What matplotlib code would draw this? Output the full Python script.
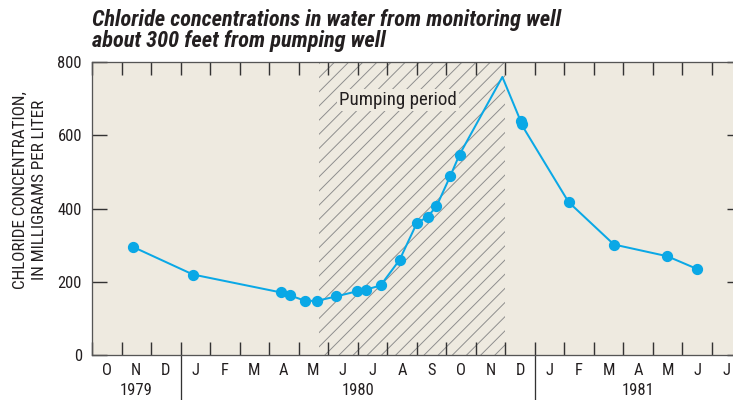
import calendar
import matplotlib
matplotlib.use('Agg')
import matplotlib.pyplot as plt
import matplotlib.transforms as mtransforms

# sample dates and chloride values
dates = ['1979-11-13', '1980-01-14', '1980-04-13', '1980-04-22', '1980-05-08',
         '1980-05-20', '1980-06-09', '1980-06-30', '1980-07-10', '1980-07-25',
         '1980-08-14', '1980-09-01', '1980-09-12', '1980-09-21', '1980-10-05',
         '1980-10-15', '1980-11-28', '1980-12-17', '1980-12-18', '1981-02-05',
         '1981-03-22', '1981-05-16', '1981-06-16']
chloride = [295, 220, 171, 163, 148, 148, 160, 174, 179, 190, 260, 360, 378,
            406, 488, 548, 760, 640, 630, 418, 302, 270, 235]
# the peak at end of Nov is drawn without a dot
has_marker = [True] * 16 + [False] + [True] * 6

pumping = ('1980-05-22', '1980-12-01')
month_labels = ['O', 'N', 'D', 'J', 'F', 'M', 'A', 'M', 'J', 'J', 'A', 'S',
                'O', 'N', 'D', 'J', 'F', 'M', 'A', 'M', 'J', 'J']
years = ['1979', '1980', '1981']
year_start = [0, 3, 15]   # month index where each year begins
year_end = [3, 15, 22]


def to_month(s):
    # fractional months since 1 Oct 1979
    y, m, d = [int(p) for p in s.split('-')]
    ndays = calendar.monthrange(y, m)[1]
    return (y - 1979) * 12 + (m - 10) + (d - 1) / ndays


x = [to_month(d) for d in dates]
marks = [i for i, f in enumerate(has_marker) if f]

DPI = 85
narrow = ['Roboto Condensed', 'Liberation Sans Narrow', 'Roboto', 'DejaVu Sans']
txt = dict(family=narrow, stretch='condensed', color='#231f20')
plt.rcParams['hatch.linewidth'] = 0.8
plt.rcParams['hatch.color'] = '#8c8c8c'

fig = plt.figure(figsize=(733 / DPI, 400 / DPI), dpi=DPI)
ax = fig.add_axes([92 / 733, 45 / 400, 649.5 / 733, 292.7 / 400])
ax.set_facecolor('#eeeae0')

ax.axvspan(to_month(pumping[0]), to_month(pumping[1]), facecolor='none',
           edgecolor='#8c8c8c', hatch='//', linewidth=0, zorder=1)
ax.text(10.37, 697, 'Pumping period', ha='center', va='center',
        fontsize=16, zorder=2, **txt,
        bbox=dict(facecolor='#eeeae0', edgecolor='none', pad=2))

ax.plot(x, chloride, color='#0aa8e6', lw=1.7, marker='o', markersize=8.5,
        markevery=marks, zorder=3)

ax.set_xlim(0, 22)
ax.set_ylim(0, 800)
ax.set_yticks([0, 200, 400, 600, 800])
ax.set_xticks(range(0, 23))
ax.set_xticklabels([])
ax.set_xticks([i + 0.5 for i in range(22)], minor=True)
ax.set_xticklabels(month_labels, minor=True)

for lab in ax.get_yticklabels() + ax.get_xticklabels(minor=True):
    lab.set_family(narrow)
    lab.set_stretch('condensed')
    lab.set_fontsize(14)
    lab.set_color('#231f20')

ax.tick_params(axis='y', direction='in', length=13, width=1.2, color='#333333',
               left=True, right=True, pad=8.5)
ax.tick_params(axis='x', which='major', direction='in', length=11, width=1.2,
               color='#333333', top=True, bottom=True)
ax.tick_params(axis='x', which='minor', length=0, pad=6.5)

for sp in ax.spines.values():
    sp.set_color('#555555')
    sp.set_linewidth(1.1)

# long separators between years and the year labels
trans = mtransforms.blended_transform_factory(ax.transData, ax.transAxes)
for xs in year_start[1:]:
    ax.plot([xs, xs], [0, -0.16], transform=trans, color='#333333', lw=1.1,
            clip_on=False)
for name, a, b in zip(years, year_start, year_end):
    ax.text((a + b) / 2, -0.12, name, transform=trans, ha='center',
            va='center', fontsize=14, **txt)

fig.text(30 / 733, 1 - 190 / 400,
         'CHLORIDE CONCENTRATION,\nIN MILLIGRAMS PER LITER', rotation=90,
         ha='center', va='center', multialignment='center', fontsize=14.5,
         linespacing=1.3, **txt)

fig.text(92 / 733, 1 - 26 / 400,
         'Chloride concentrations in water from monitoring well',
         va='baseline', fontsize=19, weight='bold', style='italic', **txt)
fig.text(92 / 733, 1 - 47 / 400, 'about 300 feet from pumping well',
         va='baseline', fontsize=19, weight='bold', style='italic', **txt)

fig.savefig('out.png', dpi=DPI)
